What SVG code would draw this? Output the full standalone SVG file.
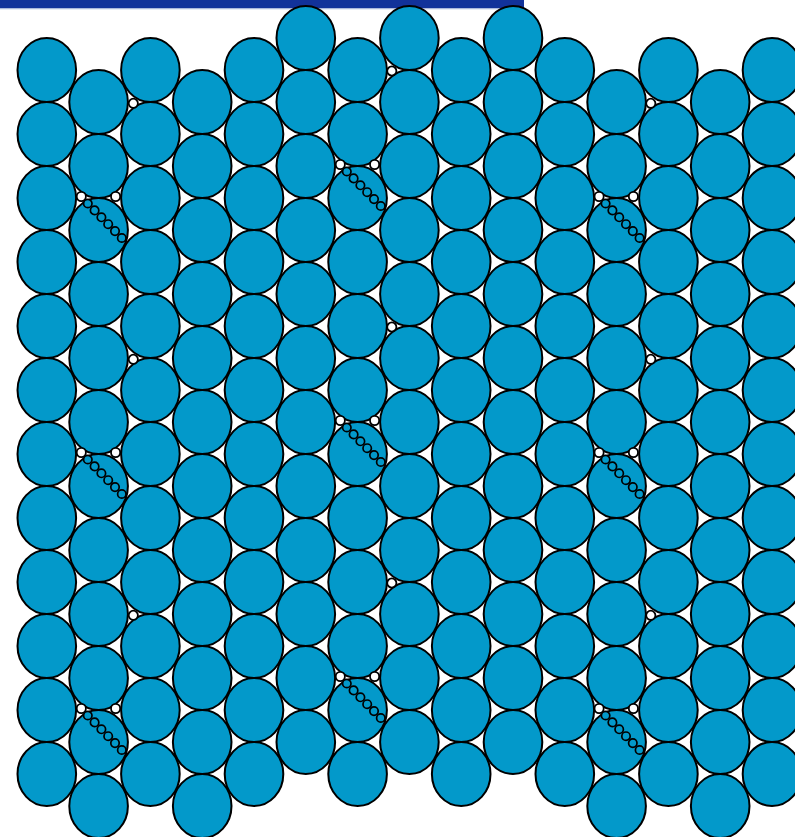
<svg xmlns="http://www.w3.org/2000/svg" xmlns:xlink="http://www.w3.org/1999/xlink" width="795" height="837" viewBox="0 0 795 837">
<style>
.b{fill:#0399ca;stroke:#000;stroke-width:2}
.w{fill:#fff;stroke:#000;stroke-width:1.8}
.k{fill:#0399ca;stroke:#000;stroke-width:1.7}
</style>
<defs>
<ellipse id="e" class="b" cx="0" cy="0" rx="29.3" ry="32"/>
<circle id="s" class="w" cx="0" cy="0" r="4.6"/>
<g id="chain">
<circle class="w" cx="-17.5" cy="-33.5" r="4.6"/>
<circle class="w" cx="16.8" cy="-33.5" r="4.6"/>
<circle class="k" cx="-11" cy="-26.5" r="4.2"/>
<circle class="k" cx="-4.2" cy="-19.6" r="4.2"/>
<circle class="k" cx="2.6" cy="-12.7" r="4.2"/>
<circle class="k" cx="9.4" cy="-5.8" r="4.2"/>
<circle class="k" cx="16.2" cy="1.1" r="4.2"/>
<circle class="k" cx="23" cy="8" r="4.2"/>
</g>
</defs>
<rect x="0" y="0" width="524" height="8.5" fill="#12329a"/>
<rect x="0" y="8.5" width="524" height="1" fill="#cdd5ea"/>
<g id="col0" transform="translate(46.8,70)"><use href="#e" y="0"/><use href="#e" y="64"/><use href="#e" y="128"/><use href="#e" y="192"/><use href="#e" y="256"/><use href="#e" y="320"/><use href="#e" y="384"/><use href="#e" y="448"/><use href="#e" y="512"/><use href="#e" y="576"/><use href="#e" y="640"/><use href="#e" y="704"/></g>
<g id="col1" transform="translate(98.6,102)"><use href="#e" y="0"/><use href="#e" y="64"/><use href="#e" y="128"/><use href="#e" y="192"/><use href="#e" y="256"/><use href="#e" y="320"/><use href="#e" y="384"/><use href="#e" y="448"/><use href="#e" y="512"/><use href="#e" y="576"/><use href="#e" y="640"/><use href="#e" y="704"/></g>
<g id="col2" transform="translate(150.4,70)"><use href="#e" y="0"/><use href="#e" y="64"/><use href="#e" y="128"/><use href="#e" y="192"/><use href="#e" y="256"/><use href="#e" y="320"/><use href="#e" y="384"/><use href="#e" y="448"/><use href="#e" y="512"/><use href="#e" y="576"/><use href="#e" y="640"/><use href="#e" y="704"/></g>
<g id="col3" transform="translate(202.2,102)"><use href="#e" y="0"/><use href="#e" y="64"/><use href="#e" y="128"/><use href="#e" y="192"/><use href="#e" y="256"/><use href="#e" y="320"/><use href="#e" y="384"/><use href="#e" y="448"/><use href="#e" y="512"/><use href="#e" y="576"/><use href="#e" y="640"/><use href="#e" y="704"/></g>
<g id="col4" transform="translate(254,70)"><use href="#e" y="0"/><use href="#e" y="64"/><use href="#e" y="128"/><use href="#e" y="192"/><use href="#e" y="256"/><use href="#e" y="320"/><use href="#e" y="384"/><use href="#e" y="448"/><use href="#e" y="512"/><use href="#e" y="576"/><use href="#e" y="640"/><use href="#e" y="704"/></g>
<g id="col5" transform="translate(305.8,38)"><use href="#e" y="0"/><use href="#e" y="64"/><use href="#e" y="128"/><use href="#e" y="192"/><use href="#e" y="256"/><use href="#e" y="320"/><use href="#e" y="384"/><use href="#e" y="448"/><use href="#e" y="512"/><use href="#e" y="576"/><use href="#e" y="640"/><use href="#e" y="704"/></g>
<g id="col6" transform="translate(357.6,70)"><use href="#e" y="0"/><use href="#e" y="64"/><use href="#e" y="128"/><use href="#e" y="192"/><use href="#e" y="256"/><use href="#e" y="320"/><use href="#e" y="384"/><use href="#e" y="448"/><use href="#e" y="512"/><use href="#e" y="576"/><use href="#e" y="640"/><use href="#e" y="704"/></g>
<g id="col7" transform="translate(409.4,38)"><use href="#e" y="0"/><use href="#e" y="64"/><use href="#e" y="128"/><use href="#e" y="192"/><use href="#e" y="256"/><use href="#e" y="320"/><use href="#e" y="384"/><use href="#e" y="448"/><use href="#e" y="512"/><use href="#e" y="576"/><use href="#e" y="640"/><use href="#e" y="704"/></g>
<g id="col8" transform="translate(461.2,70)"><use href="#e" y="0"/><use href="#e" y="64"/><use href="#e" y="128"/><use href="#e" y="192"/><use href="#e" y="256"/><use href="#e" y="320"/><use href="#e" y="384"/><use href="#e" y="448"/><use href="#e" y="512"/><use href="#e" y="576"/><use href="#e" y="640"/><use href="#e" y="704"/></g>
<g id="col9" transform="translate(513,38)"><use href="#e" y="0"/><use href="#e" y="64"/><use href="#e" y="128"/><use href="#e" y="192"/><use href="#e" y="256"/><use href="#e" y="320"/><use href="#e" y="384"/><use href="#e" y="448"/><use href="#e" y="512"/><use href="#e" y="576"/><use href="#e" y="640"/><use href="#e" y="704"/></g>
<g id="col10" transform="translate(564.8,70)"><use href="#e" y="0"/><use href="#e" y="64"/><use href="#e" y="128"/><use href="#e" y="192"/><use href="#e" y="256"/><use href="#e" y="320"/><use href="#e" y="384"/><use href="#e" y="448"/><use href="#e" y="512"/><use href="#e" y="576"/><use href="#e" y="640"/><use href="#e" y="704"/></g>
<g id="col11" transform="translate(616.6,102)"><use href="#e" y="0"/><use href="#e" y="64"/><use href="#e" y="128"/><use href="#e" y="192"/><use href="#e" y="256"/><use href="#e" y="320"/><use href="#e" y="384"/><use href="#e" y="448"/><use href="#e" y="512"/><use href="#e" y="576"/><use href="#e" y="640"/><use href="#e" y="704"/></g>
<g id="col12" transform="translate(668.4,70)"><use href="#e" y="0"/><use href="#e" y="64"/><use href="#e" y="128"/><use href="#e" y="192"/><use href="#e" y="256"/><use href="#e" y="320"/><use href="#e" y="384"/><use href="#e" y="448"/><use href="#e" y="512"/><use href="#e" y="576"/><use href="#e" y="640"/><use href="#e" y="704"/></g>
<g id="col13" transform="translate(720.2,102)"><use href="#e" y="0"/><use href="#e" y="64"/><use href="#e" y="128"/><use href="#e" y="192"/><use href="#e" y="256"/><use href="#e" y="320"/><use href="#e" y="384"/><use href="#e" y="448"/><use href="#e" y="512"/><use href="#e" y="576"/><use href="#e" y="640"/><use href="#e" y="704"/></g>
<g id="col14" transform="translate(772,70)"><use href="#e" y="0"/><use href="#e" y="64"/><use href="#e" y="128"/><use href="#e" y="192"/><use href="#e" y="256"/><use href="#e" y="320"/><use href="#e" y="384"/><use href="#e" y="448"/><use href="#e" y="512"/><use href="#e" y="576"/><use href="#e" y="640"/><use href="#e" y="704"/></g>
<g id="singles">
<use href="#s" x="133.3" y="103.3"/><use href="#s" x="133.3" y="359.3"/><use href="#s" x="133.3" y="615.3"/>
<use href="#s" x="391.8" y="71"/><use href="#s" x="391.8" y="327"/><use href="#s" x="391.8" y="583"/>
<use href="#s" x="650.8" y="103.3"/><use href="#s" x="650.8" y="359.3"/><use href="#s" x="650.8" y="615.3"/>
</g>
<g id="chains">
<use href="#chain" x="98.8" y="230"/><use href="#chain" x="98.8" y="486"/><use href="#chain" x="98.8" y="742"/>
<use href="#chain" x="357.8" y="198"/><use href="#chain" x="357.8" y="454"/><use href="#chain" x="357.8" y="710"/>
<use href="#chain" x="616.6" y="230"/><use href="#chain" x="616.6" y="486"/><use href="#chain" x="616.6" y="742"/>
</g>
</svg>
